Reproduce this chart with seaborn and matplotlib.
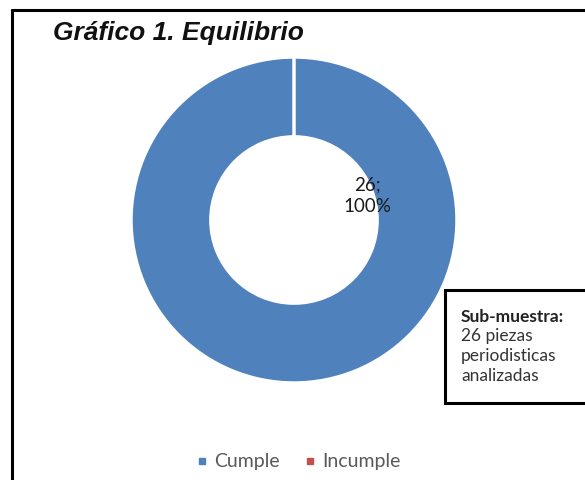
import matplotlib
matplotlib.use("Agg")
import matplotlib.pyplot as plt
import seaborn as sns
from matplotlib.patches import Rectangle
from matplotlib.lines import Line2D

# data
categories = ["Cumple", "Incumple"]
counts = [26, 0]
title = "Gráfico 1. Equilibrio"
note_head = "Sub-muestra:"
note_body = "26 piezas\nperiodisticas\nanalizadas"

sns.set_theme(style="white")
plt.rcParams["font.family"] = ["Lato", "DejaVu Sans"]
colors = ["#4F81BD", "#C0504D"]

W, H = 585, 480
fig = plt.figure(figsize=(W / 100, H / 100), dpi=100)
fig.patch.set_facecolor("white")

# donut axes: center (294, 220) px, radius 163 px
half = 170
cx, cy, r = 294, 220, 163
ax = fig.add_axes([(cx - half) / W, (H - cy - half) / H, 2 * half / W, 2 * half / H])
wedges, _ = ax.pie(counts, colors=colors, startangle=90, counterclock=False,
                   radius=1, wedgeprops=dict(width=0.49, edgecolor="white", linewidth=2.5))
lim = half / r
ax.set_xlim(-lim, lim)
ax.set_ylim(-lim, lim)
ax.set_aspect("equal")
ax.axis("off")

total = sum(counts)
ax.text(0.45, 0.15, f"{counts[0]};\n{counts[0] / total * 100:.0f}%", ha="center", va="center",
        fontsize=13.5, color="#1a1a1a", linespacing=1.3)

# frame (left and top edges visible)
fig.add_artist(Line2D([12 / W, 12 / W], [0, 1 - 10 / H], transform=fig.transFigure,
                      color="black", linewidth=2.2))
fig.add_artist(Line2D([12 / W, 1], [1 - 10 / H, 1 - 10 / H], transform=fig.transFigure,
                      color="black", linewidth=2.2))

fig.text(53 / W, 1 - 33 / H, title, fontsize=19, fontweight="bold", fontstyle="italic",
         family=["Liberation Sans", "DejaVu Sans"], color="#111111", va="center", ha="left")

# note box
fig.add_artist(Rectangle((445 / W, 1 - 403 / H), 200 / W, (403 - 290) / H, transform=fig.transFigure,
                         facecolor="white", edgecolor="black", linewidth=2.2, clip_on=False))
fig.text(461 / W, 1 - 317 / H, note_head, fontsize=12.5, fontweight="bold", color="#222222", va="center")
fig.text(461 / W, 1 - 328 / H, note_body, fontsize=12.5, color="#333333", va="top", linespacing=1.3)

handles = [Line2D([], [], marker="s", linestyle="", markersize=5, color=c) for c in colors]
fig.legend(handles, categories, loc="center", bbox_to_anchor=(298 / W, 1 - 462 / H), ncol=2,
           frameon=False, fontsize=14, labelcolor="#595959", handletextpad=0.3, columnspacing=1.2,
           handlelength=0.7)

fig.savefig("out.png", dpi=100, facecolor="white")
